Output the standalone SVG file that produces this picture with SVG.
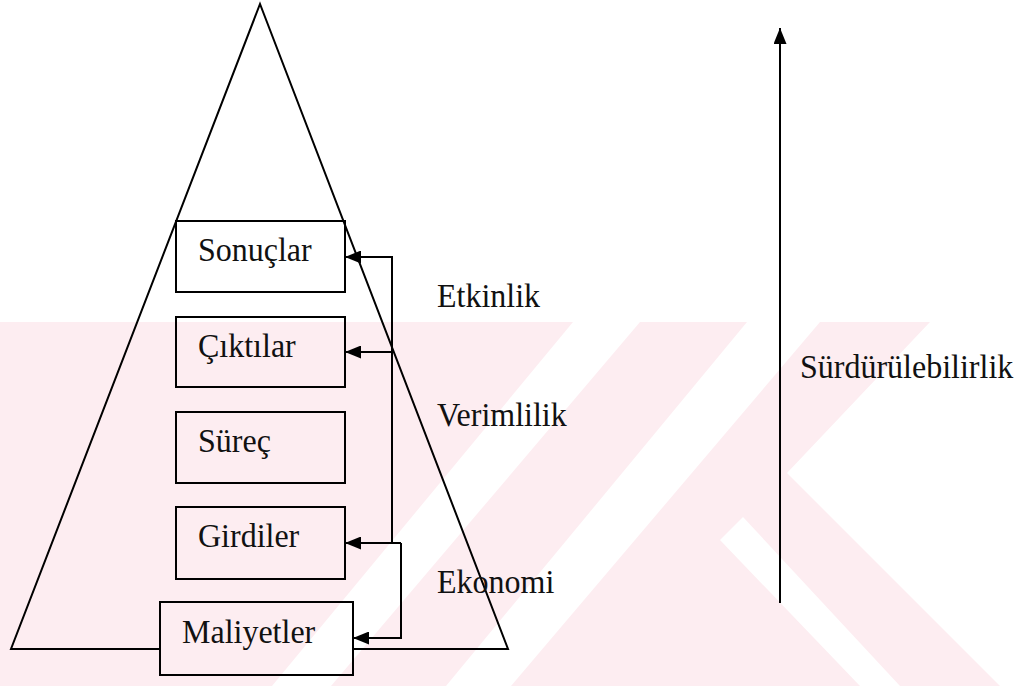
<svg xmlns="http://www.w3.org/2000/svg" width="1021" height="686" viewBox="0 0 1021 686">
<style>
.ln{fill:none;stroke:#000;stroke-width:2}
.bx{fill:none;stroke:#000;stroke-width:2}
.t{font-family:"Liberation Serif","Times New Roman",serif;font-size:32px;fill:#111}
.wm{fill:#fdedf1}
.ww{fill:#fff}
</style>
<defs>
<marker id="ah" viewBox="0 0 16 13" refX="16" refY="6.5" markerWidth="16" markerHeight="13" markerUnits="userSpaceOnUse" orient="auto"><path d="M0,0 L16,6.5 L0,13 z" fill="#000"/></marker>
</defs>
<rect width="1021" height="686" fill="#fff"/>
<g id="watermark">
<polygon class="wm" points="0,322 930,322 787,473 1000,686 0,686"/>
<polygon class="ww" points="747,322 820,322 511,686 446,686"/>
<polygon class="ww" points="573,322 640,322 331,686 272,686"/>
<polygon class="ww" points="720,540 743,517 900,686 860,686"/>
</g>
<g id="pyramid">
<path class="ln" d="M160,649 H11 L260,4 L508,649 H353"/>
</g>
<g id="sonuclar"><rect class="bx" x="176" y="221" width="169" height="71"/><text class="t" transform="translate(198,261) scale(1,1.08)">Sonuçlar</text></g>
<g id="ciktilar"><rect class="bx" x="176" y="317" width="169" height="70"/><text class="t" transform="translate(198,357) scale(1,1.08)">Çıktılar</text></g>
<g id="surec"><rect class="bx" x="176" y="412" width="169" height="71"/><text class="t" transform="translate(198,452) scale(1,1.08)">Süreç</text></g>
<g id="girdiler"><rect class="bx" x="176" y="507" width="169" height="72"/><text class="t" transform="translate(198,547) scale(1,1.08)">Girdiler</text></g>
<g id="maliyetler"><rect class="bx" x="160" y="602" width="193" height="73"/><text class="t" transform="translate(182,643) scale(1,1.08)">Maliyetler</text></g>
<g id="labels">
<text class="t" transform="translate(437,307) scale(1,1.08)">Etkinlik</text>
<text class="t" transform="translate(437,426) scale(1,1.08)">Verimlilik</text>
<text class="t" transform="translate(437,593) scale(1,1.08)">Ekonomi</text>
<text class="t" transform="translate(800,378) scale(1,1.08)">Sürdürülebilirlik</text>
</g>
<g id="connectors">
<path class="ln" d="M392,543 V257 H345" marker-end="url(#ah)"/>
<path class="ln" d="M392,352 H345" marker-end="url(#ah)"/>
<path class="ln" d="M401,543 H345" marker-end="url(#ah)"/>
<path class="ln" d="M401,543 V638 H353" marker-end="url(#ah)"/>
<path class="ln" d="M780,603 V28" marker-end="url(#ah)"/>
</g>
</svg>
